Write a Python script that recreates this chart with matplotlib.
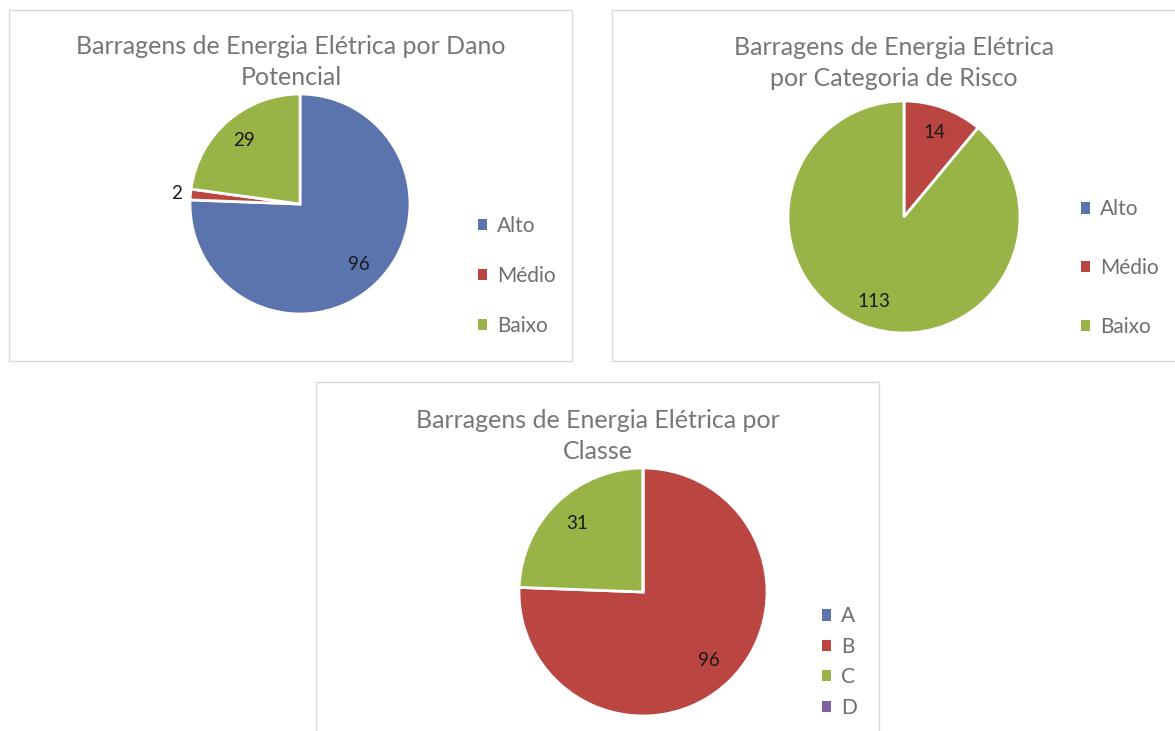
import numpy as np
import matplotlib.pyplot as plt
from matplotlib.patches import Rectangle, Patch

plt.rcParams['font.family'] = ['Lato', 'DejaVu Sans']

# dados dos graficos
dano_labels = ['Alto', 'Médio', 'Baixo']
dano_values = [96, 2, 29]

risco_labels = ['Alto', 'Médio', 'Baixo']
risco_values = [0, 14, 113]

classe_labels = ['A', 'B', 'C', 'D']
classe_values = [0, 96, 31, 0]

titles = ['Barragens de Energia Elétrica por Dano\nPotencial',
          'Barragens de Energia Elétrica\npor Categoria de Risco',
          'Barragens de Energia Elétrica por\nClasse']

pal = ['#5b74ad', '#bb4641', '#99b446', '#7f62a0']

W, H = 1175, 731
fig = plt.figure(figsize=(W / 100, H / 100), dpi=100)


def px_box(x0, y0, x1, y1):
    return [x0 / W, 1 - y1 / H, (x1 - x0) / W, (y1 - y0) / H]


def panel(x0, y0, x1, y1):
    fig.add_artist(Rectangle((x0 / W, 1 - y1 / H), (x1 - x0) / W, (y1 - y0) / H,
                             transform=fig.transFigure, fill=False,
                             edgecolor='#d9d9d9', lw=1))


def draw_pie(values, labels, cx, cy, r, title, tx, ty, lx, ly, spacing):
    ax = fig.add_axes(px_box(cx - r, cy - r, cx + r, cy + r))
    wedges, _ = ax.pie(values, colors=pal[:len(values)], startangle=90,
                       counterclock=False,
                       wedgeprops=dict(edgecolor='white', linewidth=2))
    ax.set_xlim(-1, 1)
    ax.set_ylim(-1, 1)
    total = sum(values)
    for w, v in zip(wedges, values):
        if v == 0:
            continue
        ang = np.deg2rad((w.theta1 + w.theta2) / 2)
        d = 1.13 if v / total < 0.05 else 0.77
        ax.text(d * np.cos(ang), d * np.sin(ang), str(v), ha='center',
                va='center', fontsize=13.5, color='#1a1a1a')

    fig.text(tx / W, 1 - ty / H, title, ha='center', va='center',
             fontsize=18, color='#767676', linespacing=1.45)

    handles = [Patch(facecolor=pal[i]) for i in range(len(values))]
    ax.legend(handles, labels, loc='center left',
              bbox_to_anchor=(lx / W, 1 - ly / H), bbox_transform=fig.transFigure,
              frameon=False, fontsize=15, labelcolor='#6e6e6e',
              handlelength=0.45, handleheight=0.45, handletextpad=0.45,
              borderpad=0, borderaxespad=0, labelspacing=spacing)


panel(9, 10, 572, 361)
panel(612, 10, 1180, 361)
panel(316, 382, 879, 740)

draw_pie(dano_values, dano_labels, 300, 204, 110, titles[0], 291, 62, 478, 276, 1.45)
draw_pie(risco_values, risco_labels, 904, 217, 116, titles[1], 894, 63, 1081, 268, 1.85)
draw_pie(classe_values, classe_labels, 643, 592, 124, titles[2], 598, 436, 822, 662, 0.5)

fig.savefig('out.png', dpi=100)
